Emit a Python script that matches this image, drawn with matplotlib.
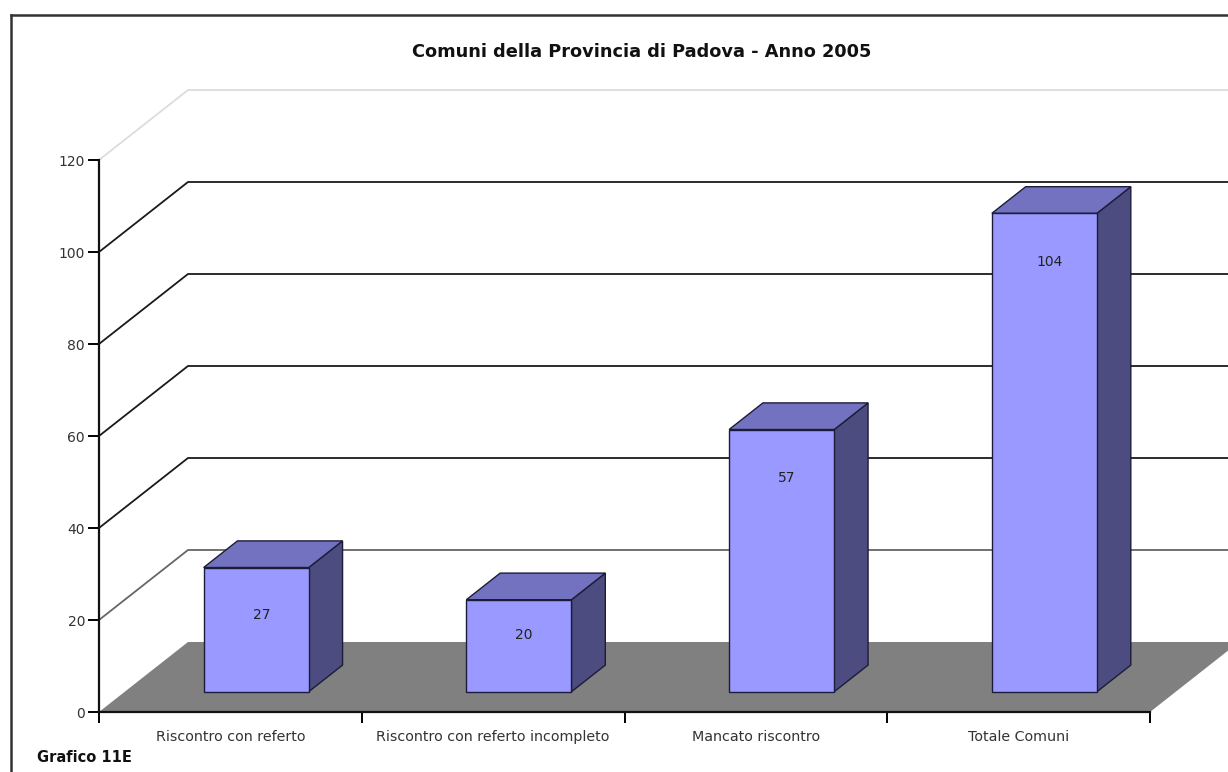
import numpy as np
import matplotlib
matplotlib.use("Agg")
import matplotlib.pyplot as plt
from matplotlib.patches import Polygon
from matplotlib.lines import Line2D

# Data
categories = ["Riscontro con referto", "Riscontro con referto incompleto",
              "Mancato riscontro", "Totale Comuni"]
values = [27, 20, 57, 104]
y_ticks = [0, 20, 40, 60, 80, 100, 120]
title = "Comuni della Provincia di Padova - Anno 2005"
footnote = "Grafico 11E"

# Colours
FRONT = "#9999ff"
TOP = "#7272c0"
SIDE = "#4c4c80"
EDGE = "#1c1c38"
FLOOR = "#808080"

W, H = 1228, 772
fig = plt.figure(figsize=(W / 100, H / 100), dpi=100)
plt.rcParams["font.family"] = "DejaVu Sans"

# front plane of the chart
ax = fig.add_axes([99 / W, 60 / H, 1051 / W, 552 / H])
ax.set_xlim(0, len(categories))
ax.set_ylim(0, 120)

# depth of the pseudo-3D box, in data units
DX = 89 / 1051 * len(categories)
DY = 70 / 552 * 120
n = len(categories)

# back wall grid lines and the diagonals on the left wall
for v in y_ticks:
    if v == 0:
        continue
    col = "#dcdcdc" if v == 120 else ("#666666" if v == 20 else "#1a1a1a")
    ax.plot([0, DX, n + DX], [v, v + DY, v + DY], color=col, lw=1.3,
            clip_on=False, zorder=1, solid_joinstyle="miter")

# floor
ax.add_patch(Polygon([(0, 0), (n, 0), (n + DX, DY), (DX, DY)], closed=True,
                     facecolor=FLOOR, edgecolor="none", clip_on=False, zorder=2))

# bars as boxes
f0, f1 = 0.29, 0.67
bw = 0.4
for i, v in enumerate(values):
    x0 = i + 0.3 + f0 * DX
    x1 = x0 + bw
    y0 = f0 * DY
    y1 = y0 + v
    ddx = (f1 - f0) * DX
    ddy = (f1 - f0) * DY
    side = [(x1, y0), (x1 + ddx, y0 + ddy), (x1 + ddx, y1 + ddy), (x1, y1)]
    top = [(x0, y1), (x1, y1), (x1 + ddx, y1 + ddy), (x0 + ddx, y1 + ddy)]
    front = [(x0, y0), (x1, y0), (x1, y1), (x0, y1)]
    for pts, fc in ((side, SIDE), (top, TOP), (front, FRONT)):
        ax.add_patch(Polygon(pts, closed=True, facecolor=fc, edgecolor=EDGE,
                             lw=1.0, clip_on=False, zorder=3,
                             joinstyle="miter"))
    ax.text((x0 + x1) / 2 + 0.02, y1 - min(10.5, 0.38 * v), str(v),
            ha="center", va="center", fontsize=10, color="#222222", zorder=4)

# axes styling
for s in ("top", "right"):
    ax.spines[s].set_visible(False)
for s in ("left", "bottom"):
    ax.spines[s].set_linewidth(1.6)
    ax.spines[s].set_color("#111111")
    ax.spines[s].set_zorder(5)
ax.patch.set_visible(False)

ax.set_yticks(y_ticks)
ax.set_yticklabels([str(t) for t in y_ticks])
ax.tick_params(axis="y", direction="out", length=8, width=1.4,
               labelsize=10, labelcolor="#333333", pad=2)

ax.set_xticks(np.arange(n + 1))
ax.set_xticklabels([])
ax.tick_params(axis="x", which="major", direction="out", length=8, width=1.4)
ax.set_xticks(np.arange(n) + 0.5, minor=True)
ax.set_xticklabels(categories, minor=True)
ax.tick_params(axis="x", which="minor", length=0, labelsize=10.3,
               labelcolor="#333333", pad=13)

fig.text(0.5 * (99 + 1150) / W + 0.014, 1 - 52 / H, title, ha="center",
         va="center", fontsize=12.8, fontweight="bold", color="#111111")
fig.text(37 / W, 1 - 757 / H, footnote, ha="left", va="center",
         fontsize=10.5, fontweight="bold", color="#111111")

# outer frame
fig.add_artist(Line2D([11 / W, 11 / W], [0, 1 - 15 / H], color="#333333",
                      lw=1.8, transform=fig.transFigure))
fig.add_artist(Line2D([11 / W, 1], [1 - 15 / H, 1 - 15 / H], color="#333333",
                      lw=1.8, transform=fig.transFigure))

fig.savefig("out.png", dpi=100, facecolor="white")
